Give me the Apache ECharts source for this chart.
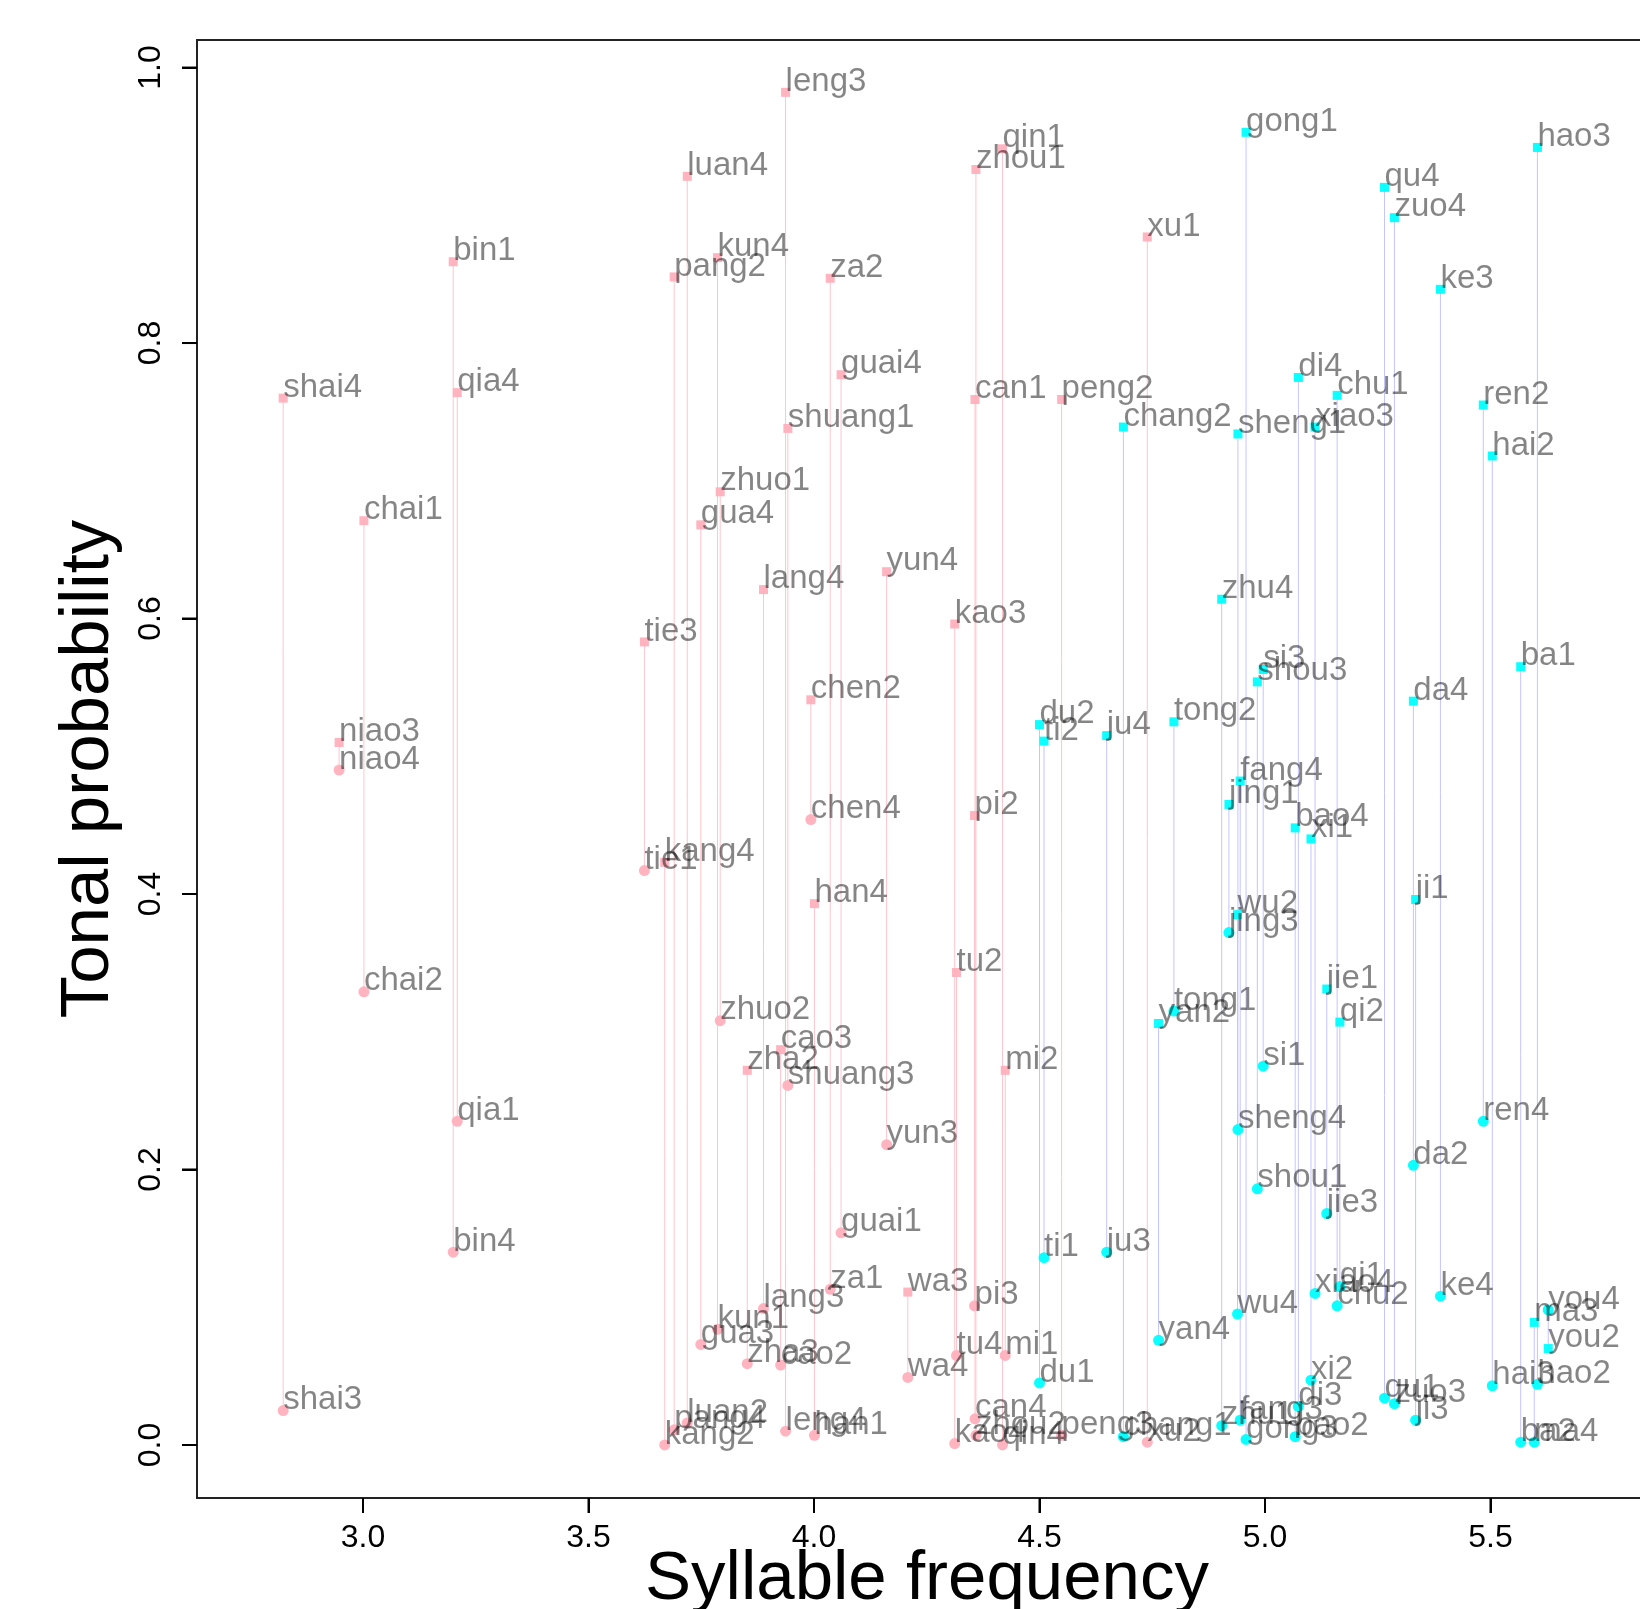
<!DOCTYPE html>
<html>
<head>
<meta charset="utf-8">
<script src="https://cdn.jsdelivr.net/npm/echarts@6/dist/echarts.min.js"></script>
<style>
  html, body { margin: 0; padding: 0; background: #fff; }
  #chart { width: 1640px; height: 1609px; }
</style>
</head>
<body>
<div id="chart"></div>
<script>
// tick values
var xTicks = [3.0, 3.5, 4.0, 4.5, 5.0, 5.5];
var yTicks = [0.0, 0.2, 0.4, 0.6, 0.8, 1.0];

// pink pairs: syllable frequency, square point (label, prob), circle point (label, prob)
var pinkX = [2.823, 2.947, 3.002, 3.200, 3.209, 3.624, 3.669, 3.690, 3.719, 3.749, 3.786, 3.792, 3.852, 3.888, 3.926, 3.937,
  3.942, 3.993, 4.001, 4.036, 4.060, 4.161, 4.208, 4.312, 4.316, 4.356, 4.357, 4.359, 4.418, 4.424, 4.549, 4.739];
var pinkSqLabel = ['shai4', 'niao3', 'chai1', 'bin1', 'qia4', 'tie3', 'kang4', 'pang2', 'luan4', 'gua4', 'kun4', 'zhuo1', 'zha2', 'lang4', 'cao3', 'leng3',
  'shuang1', 'chen2', 'han4', 'za2', 'guai4', 'yun4', 'wa3', 'kao3', 'tu2', 'pi2', 'can1', 'zhou1', 'qin1', 'mi2', 'peng2', 'xu1'];
var pinkSqY = [0.760, 0.510, 0.671, 0.859, 0.764, 0.583, 0.423, 0.848, 0.921, 0.668, 0.862, 0.692, 0.272, 0.621, 0.287, 0.982,
  0.738, 0.541, 0.393, 0.847, 0.777, 0.634, 0.111, 0.596, 0.343, 0.457, 0.759, 0.926, 0.941, 0.272, 0.759, 0.877];
var pinkCiLabel = ['shai3', 'niao4', 'chai2', 'bin4', 'qia1', 'tie1', 'kang2', 'pang4', 'luan2', 'gua3', 'kun1', 'zhuo2', 'zha3', 'lang3', 'cao2', 'leng4',
  'shuang3', 'chen4', 'han1', 'za1', 'guai1', 'yun3', 'wa4', 'kao4', 'tu4', 'pi3', 'can4', 'zhou2', 'qin4', 'mi1', 'peng3', 'xu2'];
var pinkCiY = [0.025, 0.490, 0.329, 0.140, 0.235, 0.417, 0.000, 0.011, 0.016, 0.073, 0.084, 0.308, 0.059, 0.099, 0.058, 0.010,
  0.261, 0.454, 0.007, 0.113, 0.154, 0.218, 0.049, 0.001, 0.065, 0.101, 0.019, 0.007, 0.000, 0.065, 0.007, 0.002];

// cyan pairs
var cyanX = [4.500, 4.510, 4.649, 4.686, 4.764, 4.798, 4.904, 4.920, 4.939, 4.940, 4.945, 4.958, 4.983, 4.996, 5.067, 5.074,
  5.102, 5.111, 5.137, 5.160, 5.166, 5.265, 5.287, 5.329, 5.334, 5.389, 5.484, 5.504, 5.567, 5.597, 5.604, 5.628];
var cyanSqLabel = ['du2', 'ti2', 'ju4', 'chang2', 'yan2', 'tong2', 'zhu4', 'jing1', 'wu2', 'sheng1', 'fang4', 'gong1', 'shou3', 'si3', 'bao4', 'di4',
  'xi1', 'xiao3', 'jie1', 'chu1', 'qi2', 'qu4', 'zuo4', 'da4', 'ji1', 'ke3', 'ren2', 'hai2', 'ba1', 'ma3', 'hao3', 'you2'];
var cyanSqY = [0.523, 0.511, 0.515, 0.739, 0.306, 0.525, 0.614, 0.465, 0.385, 0.734, 0.482, 0.953, 0.554, 0.563, 0.448, 0.775,
  0.440, 0.739, 0.331, 0.762, 0.307, 0.913, 0.891, 0.540, 0.396, 0.839, 0.755, 0.718, 0.565, 0.089, 0.942, 0.070];
var cyanCiLabel = ['du1', 'ti1', 'ju3', 'chang1', 'yan4', 'tong1', 'zhu1', 'jing3', 'wu4', 'sheng4', 'fang3', 'gong3', 'shou1', 'si1', 'bao2', 'di3',
  'xi2', 'xiao4', 'jie3', 'chu2', 'qi1', 'qu1', 'zuo3', 'da2', 'ji3', 'ke4', 'ren4', 'hai3', 'ba2', 'ma4', 'hao2', 'you4'];
var cyanCiY = [0.045, 0.136, 0.140, 0.006, 0.076, 0.315, 0.014, 0.372, 0.095, 0.229, 0.018, 0.004, 0.186, 0.275, 0.006, 0.028,
  0.047, 0.110, 0.168, 0.101, 0.115, 0.034, 0.030, 0.203, 0.018, 0.108, 0.235, 0.043, 0.002, 0.002, 0.044, 0.098];

var X_MIN = 2.6319, X_MAX = 5.8692;
var Y_MIN = -0.0385, Y_MAX = 1.02;

var PINK = '#ffb0bd', PINK_LINE = '#ffc4cc';
var CYAN = '#00ffff', CYAN_LINE = '#c4c4ff';
var FONT = '"Liberation Sans", Arial, Helvetica, sans-serif';
var TICK_LEN = 15;

function points(xs, labels, ys) {
  return xs.map(function (x, i) { return { name: labels[i], value: [x, ys[i]] }; });
}
function stems(xs, y1, y2) {
  return xs.map(function (x, i) { return [x, y1[i], y2[i]]; });
}
function stemRenderer(color) {
  return function (params, api) {
    var a = api.coord([api.value(0), api.value(1)]);
    var b = api.coord([api.value(0), api.value(2)]);
    return {
      type: 'line',
      shape: { x1: a[0], y1: a[1], x2: b[0], y2: b[1] },
      style: { stroke: color, lineWidth: 1 }
    };
  };
}

var pointLabel = {
  show: true,
  formatter: '{b}',
  position: ['50%', '50%'],
  align: 'left',
  verticalAlign: 'bottom',
  offset: [0, 6],
  color: 'rgba(0,0,0,0.5)',
  fontSize: 33,
  fontFamily: FONT
};

function scatter(data, color, symbol, size) {
  return {
    type: 'scatter',
    data: data,
    symbol: symbol,
    symbolSize: size,
    itemStyle: { color: color, opacity: 0.95 },
    label: pointLabel,
    emphasis: { disabled: true },
    z: 3
  };
}

var tickLine = { color: '#000', width: 2 };

var chart = echarts.init(document.getElementById('chart'));
chart.setOption({
  animation: false,
  grid: {
    left: 197, top: 40, right: -17, bottom: 111,
    outerBoundsMode: 'none',
    show: true, borderColor: '#222', borderWidth: 2
  },
  xAxis: {
    type: 'value', min: X_MIN, max: X_MAX,
    axisLine: { show: true, onZero: false, lineStyle: { color: '#222', width: 2 } },
    splitLine: { show: false },
    axisTick: { show: true, customValues: xTicks, length: TICK_LEN, lineStyle: tickLine },
    axisLabel: {
      customValues: xTicks, margin: 24, color: '#000', fontSize: 32, fontFamily: FONT,
      formatter: function (v) { return v.toFixed(1); }
    }
  },
  yAxis: {
    type: 'value', min: Y_MIN, max: Y_MAX,
    axisLine: { show: true, onZero: false, lineStyle: { color: '#222', width: 2 } },
    splitLine: { show: false },
    axisTick: { show: true, customValues: yTicks, length: TICK_LEN, lineStyle: tickLine },
    axisLabel: {
      customValues: yTicks, margin: 30, rotate: 90, color: '#000', fontSize: 32, fontFamily: FONT,
      formatter: function (v) { return v.toFixed(1); }
    }
  },
  series: [
    { type: 'custom', renderItem: stemRenderer(PINK_LINE), data: stems(pinkX, pinkSqY, pinkCiY), encode: { x: 0, y: [1, 2] }, z: 1, silent: true },
    { type: 'custom', renderItem: stemRenderer(CYAN_LINE), data: stems(cyanX, cyanSqY, cyanCiY), encode: { x: 0, y: [1, 2] }, z: 1, silent: true },
    scatter(points(pinkX, pinkSqLabel, pinkSqY), PINK, 'rect', 9),
    scatter(points(pinkX, pinkCiLabel, pinkCiY), PINK, 'circle', 11),
    scatter(points(cyanX, cyanSqLabel, cyanSqY), CYAN, 'rect', 9),
    scatter(points(cyanX, cyanCiLabel, cyanCiY), CYAN, 'circle', 11)
  ]
});

// axis titles and outward tick marks (filled bars), placed from the chart's own scales
var gridLeftBottom = chart.convertToPixel({ gridIndex: 0 }, [X_MIN, Y_MIN]);
var gridRightTop = chart.convertToPixel({ gridIndex: 0 }, [X_MAX, Y_MAX]);
var midX = (gridLeftBottom[0] + gridRightTop[0]) / 2;
var midY = (gridLeftBottom[1] + gridRightTop[1]) / 2;
var marks = [];
xTicks.forEach(function (v) {
  var p = chart.convertToPixel({ gridIndex: 0 }, [v, Y_MIN]);
  marks.push({ type: 'rect', silent: true, z: 100, shape: { x: p[0] - 1, y: p[1], width: 2, height: TICK_LEN }, style: { fill: '#000' } });
});
yTicks.forEach(function (v) {
  var p = chart.convertToPixel({ gridIndex: 0 }, [X_MIN, v]);
  marks.push({ type: 'rect', silent: true, z: 100, shape: { x: p[0] - TICK_LEN, y: p[1] - 1, width: TICK_LEN, height: 2 }, style: { fill: '#000' } });
});
marks.push({
  type: 'text', x: midX, y: gridLeftBottom[1] + 82,
  style: { text: 'Syllable frequency', fontSize: 69, fontFamily: FONT, fill: '#000', textAlign: 'center', textVerticalAlign: 'middle' }
});
marks.push({
  type: 'text', x: gridLeftBottom[0] - 108, y: midY, rotation: Math.PI / 2,
  style: { text: 'Tonal probability', fontSize: 69, fontFamily: FONT, fill: '#000', textAlign: 'center', textVerticalAlign: 'middle' }
});
chart.setOption({ graphic: marks });
</script>
</body>
</html>
